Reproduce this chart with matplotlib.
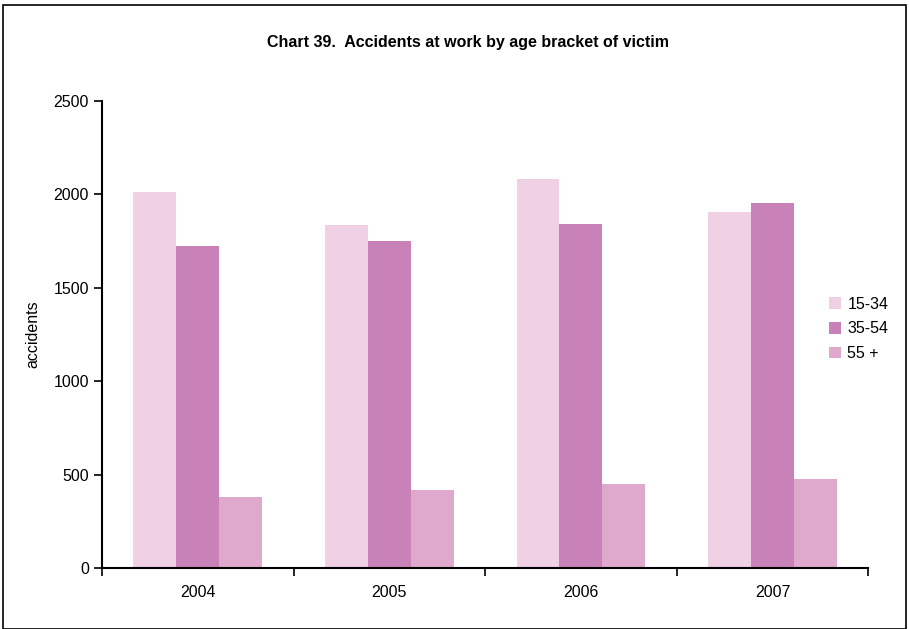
import numpy as np
import matplotlib
matplotlib.use("Agg")
import matplotlib.pyplot as plt
from matplotlib.patches import Rectangle

years = ["2004", "2005", "2006", "2007"]
age_15_34 = [2012, 1836, 2082, 1906]
age_35_54 = [1724, 1750, 1841, 1954]
age_55_plus = [380, 418, 450, 476]
series_names = ["15-34", "35-54", "55 +"]
colors = ["#F0D0E5", "#C982B8", "#DEA9CC"]

plt.rcParams["font.family"] = ["Liberation Sans", "DejaVu Sans"]

fig = plt.figure(figsize=(9.09, 6.29), dpi=100)
ax = fig.add_axes([0.1122, 0.097, 0.843, 0.7424])

x = np.arange(len(years))
w = 0.224
for i, (vals, name) in enumerate(zip([age_15_34, age_35_54, age_55_plus], series_names)):
    ax.bar(x + (i - 1) * w, vals, width=w, color=colors[i], label=name, linewidth=0)

ax.set_xlim(-0.5, len(years) - 0.5)
ax.set_ylim(0, 2500)
ax.set_yticks(np.arange(0, 2501, 500))
ax.set_xticks(x)
ax.set_xticklabels(years)
ax.set_xticks(np.arange(-0.5, len(years), 1), minor=True)
ax.tick_params(axis="x", which="major", length=0, pad=12, labelsize=11.5)
ax.tick_params(axis="x", which="minor", length=6, width=1.2, direction="out")
ax.tick_params(axis="y", length=6, width=1.2, direction="out", labelsize=11.5)

for s in ["top", "right"]:
    ax.spines[s].set_visible(False)
for s in ["left", "bottom"]:
    ax.spines[s].set_linewidth(1.5)

ax.set_ylabel("accidents", fontsize=11.5, labelpad=9)
fig.text(0.515, 0.933, "Chart 39.  Accidents at work by age bracket of victim",
         ha="center", va="center", fontsize=11.5, fontweight="bold")

ax.legend(loc="center left", bbox_to_anchor=(0.93, 0.512), frameon=False,
          fontsize=11.5, handlelength=0.75, handleheight=0.75, handletextpad=0.4,
          labelspacing=0.6)

fig.patches.append(Rectangle((0.0035, 0.0), 0.993, 0.992, transform=fig.transFigure,
                             fill=False, edgecolor="black", linewidth=1.2))

fig.savefig("out.png", dpi=100)
